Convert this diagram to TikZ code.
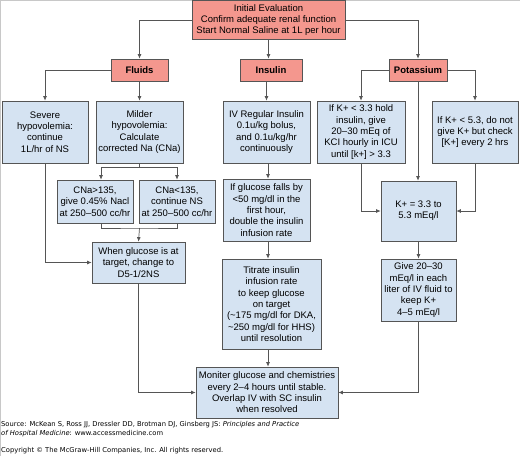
\documentclass[tikz,border=0pt]{standalone}
\usepackage{fontspec}
\setmainfont{Liberation Sans}
\newfontfamily\creditfont{DejaVu Sans}
\usepackage{tikz}
\usetikzlibrary{arrows.meta}
\definecolor{headfill}{HTML}{F4978E}
\definecolor{stepfill}{HTML}{D5E3F2}
\definecolor{edgegray}{HTML}{555555}
\definecolor{framegray}{HTML}{C8C8C8}
\tikzset{
  headbox/.style={draw=edgegray, line width=0.7pt, fill=headfill, align=center, inner sep=1pt, minimum height=22pt},
  stepbox/.style={draw=edgegray, line width=0.7pt, fill=stepfill, align=center, inner sep=1pt},
  arrow/.style={-{Latex[length=4.5pt,width=4pt]}, line width=0.7pt, draw=edgegray},
  link/.style={line width=0.7pt, draw=edgegray},
  credit/.style={anchor=west, inner sep=0pt, font=\creditfont\fontsize{6.75}{8}\selectfont}
}

\begin{document}
\begin{tikzpicture}[x=1pt, y=-1pt, font=\fontsize{9.5}{11.3}\selectfont]
  \useasboundingbox (0,0) rectangle (520,456);
  \draw[framegray, line width=1pt] (0.5,456) -- (0.5,0.5) -- (520,0.5);

  % heads
  \node[headbox, minimum width=153pt, minimum height=39pt] (start) at (268.5,20) {Initial Evaluation\\ Confirm adequate renal function\\ Start Normal Saline at 1L per hour};
  \node[headbox, minimum width=57pt] (fluids) at (139.5,70) {\textbf{Fluids}};
  \node[headbox, minimum width=62pt] (insulin) at (271,70) {\textbf{Insulin}};
  \node[headbox, minimum width=58pt] (potassium) at (418,70) {\textbf{Potassium}};

  % fluids column
  \node[stepbox, minimum width=86pt, minimum height=62pt] (severe) at (45,132) {Severe\\ hypovolemia:\\ continue\\ 1L/hr of NS};
  \node[stepbox, minimum width=87pt, minimum height=62pt] (milder) at (139.5,132) {Milder\\ hypovolemia:\\ Calculate\\ corrected Na (CNa)};
  \node[stepbox, minimum width=76pt, minimum height=43pt] (cnahigh) at (95,201.5) {CNa>135,\\ give 0.45\% Nacl\\ at 250--500 cc/hr};
  \node[stepbox, minimum width=76pt, minimum height=43pt] (cnalow) at (177,201.5) {CNa<135,\\ continue NS\\ at 250--500 cc/hr};
  \node[stepbox, minimum width=93pt, minimum height=41pt] (glctarget) at (138.5,262.5) {When glucose is at\\ target, change to\\ D5-1/2NS};

  % insulin column
  \node[stepbox, minimum width=87pt, minimum height=62pt] (ivinsulin) at (266.5,132) {IV Regular Insulin\\ 0.1u/kg bolus,\\ and 0.1u/kg/hr\\ continuously};
  \node[stepbox, minimum width=87pt, minimum height=62pt] (glcfall) at (266.5,210) {If glucose falls by\\ <50 mg/dl in the\\ first hour,\\ double the insulin\\ infusion rate};
  \node[stepbox, minimum width=99pt, minimum height=90pt] (titrate) at (271.5,304) {Titrate insulin\\ infusion rate\\ to keep glucose\\ on target\\ (\textasciitilde175 mg/dl for DKA,\\ \textasciitilde250 mg/dl for HHS)\\ until resolution};
  \node[stepbox, minimum width=142pt, minimum height=51pt] (monitor) at (267,392.5) {Moniter glucose and chemistries\\ every 2--4 hours until stable.\\ Overlap IV with SC insulin\\ when resolved};

  % potassium column
  \node[stepbox, minimum width=88pt, minimum height=62pt] (klow) at (361,132) {If K+ < 3.3 hold\\ insulin, give\\ 20--30 mEq of\\ KCI hourly in ICU\\ until [k+] > 3.3};
  \node[stepbox, minimum width=86pt, minimum height=62pt] (khigh) at (475,132) {If K+ < 5.3, do not\\ give K+ but check\\ {[K+]} every 2 hrs};
  \node[stepbox, minimum width=75pt, minimum height=60pt] (krange) at (418.5,211) {K+ = 3.3 to\\ 5.3 mEq/l};
  \node[stepbox, minimum width=75pt, minimum height=62pt] (kgive) at (418.5,290) {Give 20--30\\ mEq/l in each\\ liter of IV fluid to\\ keep K+\\ 4--5 mEq/l};

  \coordinate (split) at (139.5,167);
  \coordinate (join) at (139.5,228);

  \draw[arrow] (start.west) -| (fluids.north);
  \draw[arrow] (start.south) -- (start.south |- insulin.north);
  \draw[arrow] (start.east) -| (potassium.north);

  \draw[arrow] (fluids.west) -| (severe.north);
  \draw[arrow] (fluids.south) -- (milder.north);
  \draw[link] (milder.south) -- (split);
  \draw[arrow] (split) -| ([xshift=6pt]cnahigh.north);
  \draw[arrow] (split) -| (cnalow.north);
  \draw[link] ([xshift=6pt]cnahigh.south) |- (join) -| (cnalow.south);
  \draw[arrow] (join) -- (glctarget.north);
  \draw[arrow] (severe.south) |- (glctarget.west);
  \draw[arrow] (glctarget.south) |- (monitor.west);

  \draw[arrow] (ivinsulin.north |- insulin.south) -- (ivinsulin.north);
  \draw[arrow] ([xshift=1.5pt]ivinsulin.south) -- ([xshift=1.5pt]glcfall.north);
  \draw[arrow] ([xshift=1.5pt]glcfall.south) -- ([xshift=1.5pt]glcfall.south |- titrate.north);
  \draw[arrow] ([xshift=1pt]monitor.north |- titrate.south) -- ([xshift=1pt]monitor.north);

  \draw[arrow] (potassium.west) -| (klow.north);
  \draw[arrow] (potassium.east) -| (khigh.north);
  \draw[arrow] (potassium.south) -- (potassium.south |- krange.north);
  \draw[arrow] (klow.south) |- (krange.west);
  \draw[arrow] (khigh.south) |- (krange.east);
  \draw[arrow] (krange.south) -- (kgive.north);
  \draw[arrow] (kgive.south) |- (monitor.east);

  % source lines
  \node[credit] (source) at (1,425) {Source: McKean S, Ross JJ, Dressler DD, Brotman DJ, Ginsberg JS: \textit{Principles and Practice}};
  \node[credit] (sourcetwo) at (1,433.5) {\textit{of Hospital Medicine}: www.accessmedicine.com};
  \node[credit] (copyright) at (1,451) {Copyright \textcopyright{} The McGraw-Hill Companies, Inc. All rights reserved.};
\end{tikzpicture}
\end{document}
